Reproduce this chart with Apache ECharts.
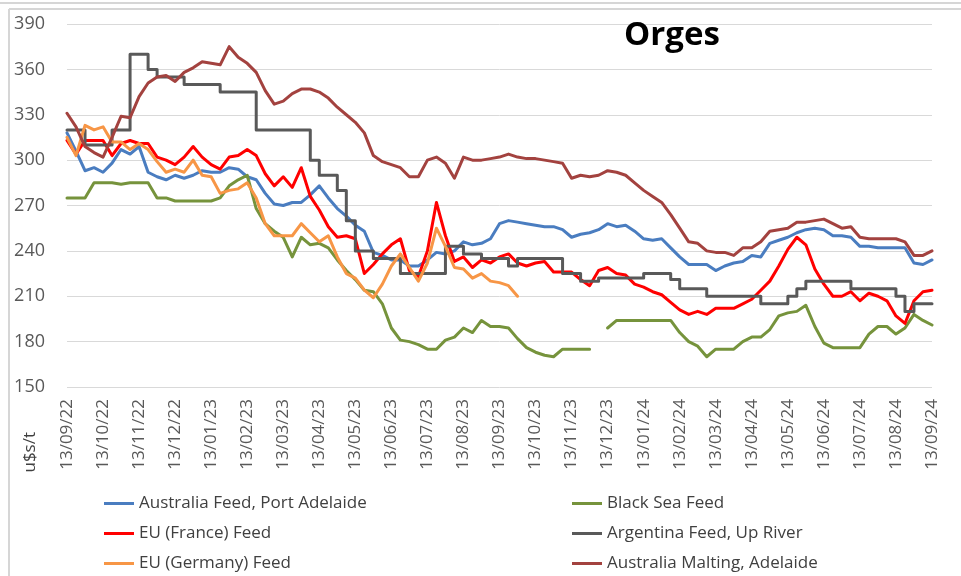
<!DOCTYPE html>
<html>
<head>
<meta charset="utf-8">
<script src="https://cdn.jsdelivr.net/npm/echarts@6/dist/echarts.min.js"></script>
<style>
  html, body { margin: 0; padding: 0; background: #fff; }
  #chart { width: 961px; height: 576px; }
</style>
</head>
<body>
<div id="chart"></div>
<script>
// month tick labels (every 4th weekly category)
var monthLabels = ['13/09/22', '13/10/22', '13/11/22', '13/12/22', '13/01/23', '13/02/23', '13/03/23',
  '13/04/23', '13/05/23', '13/06/23', '13/07/23', '13/08/23', '13/09/23', '13/10/23', '13/11/23',
  '13/12/23', '13/01/24', '13/02/24', '13/03/24', '13/04/24', '13/05/24', '13/06/24', '13/07/24',
  '13/08/24', '13/09/24']

var seriesNames = ['Australia Feed, Port Adelaide', 'Black Sea Feed', 'EU (France) Feed',
  'Argentina Feed, Up River', 'EU (Germany) Feed', 'Australia Malting, Adelaide']

// weekly values, u$s/t
var auFeed = [318, 306, 293, 295, 292, 298, 307, 304, 309, 292,
  289, 287, 290, 288, 290, 293, 292, 292, 295, 294,
  289, 287, 278, 271, 270, 272, 272, 277, 283, 275,
  268, 263, 257, 253, 239, 237, 234, 234, 230, 230,
  234, 239, 238, 240, 246, 244, 245, 248, 258, 260,
  259, 258, 257, 256, 256, 254, 249, 251, 252, 254,
  258, 256, 257, 253, 248, 247, 248, 242, 236, 231,
  231, 231, 227, 230, 232, 233, 237, 236, 245, 247,
  249, 252, 254, 255, 254, 250, 250, 249, 243, 243,
  242, 242, 242, 242, 232, 231, 234]

var blackSea = [275, 275, 275, 285, 285, 285, 284, 285, 285, 285,
  275, 275, 273, 273, 273, 273, 273, 275, 283, 287,
  290, 268, 258, 253, 249, 236, 249, 244, 245, 242,
  234, 227, 221, 214, 213, 205, 189, 181, 180, 178,
  175, 175, 181, 183, 189, 186, 194, 190, 190, 189,
  182, 176, 173, 171, 170, 175, 175, 175, 175, null,
  189, 194, 194, 194, 194, 194, 194, 194, 186, 180,
  177, 170, 175, 175, 175, 180, 183, 183, 188, 197,
  199, 200, 204, 190, 179, 176, 176, 176, 176, 185,
  190, 190, 185, 189, 198, 194, 191]

var euFrance = [313, 304, 313, 313, 313, 303, 311, 313, 311, 311,
  302, 300, 297, 302, 309, 302, 297, 294, 302, 303,
  307, 303, 291, 283, 289, 282, 295, 276, 267, 256,
  249, 250, 248, 225, 231, 238, 244, 248, 227, 223,
  240, 272, 250, 233, 236, 229, 234, 232, 236, 238,
  232, 230, 232, 233, 226, 226, 226, 221, 217, 227,
  229, 225, 224, 218, 216, 213, 211, 206, 201, 198,
  200, 198, 202, 202, 202, 205, 208, 214, 220, 230,
  241, 249, 244, 228, 218, 210, 210, 213, 207, 212,
  210, 207, 197, 192, 207, 213, 214]

var argentina = [320, 320, 310, 310, 310, 320, 320, 370, 370, 360,
  355, 355, 355, 350, 350, 350, 350, 345, 345, 345,
  345, 320, 320, 320, 320, 320, 320, 300, 290, 290,
  280, 260, 240, 240, 235, 235, 235, 225, 225, 225,
  225, 225, 243, 243, 238, 238, 235, 235, 235, 230,
  235, 235, 235, 235, 235, 225, 225, 220, 220, 222,
  222, 222, 222, 222, 225, 225, 225, 221, 215, 215,
  215, 210, 210, 210, 210, 210, 210, 205, 205, 205,
  210, 215, 220, 220, 220, 220, 220, 215, 215, 215,
  215, 215, 210, 200, 205, 205, 205]

var euGermany = [315, 303, 323, 320, 322, 312, 312, 307, 311, 307,
  299, 292, 294, 292, 300, 290, 289, 278, 280, 281,
  285, 275, 258, 250, 250, 250, 258, 252, 246, 250,
  236, 225, 222, 214, 209, 218, 230, 238, 229, 220,
  232, 255, 243, 229, 228, 222, 225, 220, 219, 217,
  210]

var auMalting = [331, 322, 309, 305, 302, 315, 329, 328, 342, 351,
  355, 356, 352, 358, 361, 365, 364, 363, 375, 368,
  364, 358, 346, 337, 339, 344, 347, 347, 345, 341,
  335, 330, 325, 318, 303, 299, 297, 295, 289, 289,
  300, 302, 298, 288, 302, 300, 300, 301, 302, 304,
  302, 301, 301, 300, 299, 298, 288, 290, 289, 290,
  293, 292, 290, 285, 280, 276, 272, 264, 255, 246,
  245, 240, 239, 239, 237, 242, 242, 246, 253, 254,
  255, 259, 259, 260, 261, 258, 255, 256, 249, 248,
  248, 248, 248, 246, 237, 237, 240]

// weekly categories: each month label followed by three in-between weeks
var categories = []
monthLabels.forEach(function(m, i) {
  categories.push(m)
  if (i < monthLabels.length - 1) {
    categories.push(m + ' +1w', m + ' +2w', m + ' +3w')
  }
})

var colors = ['#4A7DC0', '#76933C', '#FF0000', '#595959', '#F79646', '#A3423F']
var allData = [auFeed, blackSea, euFrance, argentina, euGermany, auMalting]

var chart = echarts.init(document.getElementById('chart'))

var series = seriesNames.map(function(name, i) {
  return {
    name: name,
    type: 'line',
    data: allData[i],
    symbol: 'none',
    step: i === 3 ? 'end' : false,
    connectNulls: false,
    lineStyle: { color: colors[i], width: 3, cap: 'round', join: 'round' },
    itemStyle: { color: colors[i] },
    animation: false
  }
})

function makeLegend(names, left) {
  return {
    data: names,
    orient: 'vertical',
    left: left,
    top: 494,
    height: 82,
    padding: 0,
    icon: 'rect',
    itemWidth: 30,
    itemHeight: 3,
    itemGap: 11,
    textStyle: { fontSize: 17, color: '#404040', fontFamily: 'Open Sans', lineHeight: 19 }
  }
}

chart.setOption({
  animation: false,
  title: {
    text: 'Orges',
    left: 619,
    top: 14,
    textStyle: { fontSize: 33, fontWeight: 'bold', color: '#000', fontFamily: 'Open Sans' }
  },
  grid: { left: 67, right: 29, top: 24, bottom: 189 },
  legend: [
    makeLegend([seriesNames[0], seriesNames[2], seriesNames[4]], 104),
    makeLegend([seriesNames[1], seriesNames[3], seriesNames[5]], 572)
  ],
  xAxis: {
    type: 'category',
    data: categories,
    boundaryGap: false,
    axisLine: { show: false },
    axisTick: { show: false },
    axisLabel: {
      interval: 3,
      rotate: 90,
      margin: 12,
      fontSize: 17,
      color: '#595959',
      fontFamily: 'Open Sans'
    },
    splitLine: { show: false }
  },
  yAxis: {
    type: 'value',
    min: 150,
    max: 390,
    interval: 30,
    axisLine: { show: false },
    axisTick: { show: false },
    axisLabel: { fontSize: 18, color: '#595959', margin: 22, fontFamily: 'Open Sans' },
    splitLine: { lineStyle: { color: '#D9D9D9', width: 1 } }
  },
  graphic: [
    { type: 'line', shape: { x1: 0, y1: 3, x2: 961, y2: 3 }, style: { stroke: '#D6D6D6', lineWidth: 2 } },
    { type: 'line', shape: { x1: 9, y1: 9, x2: 961, y2: 9 }, style: { stroke: '#D6D6D6', lineWidth: 2 } },
    { type: 'line', shape: { x1: 9, y1: 9, x2: 9, y2: 576 }, style: { stroke: '#D6D6D6', lineWidth: 2 } },
    {
      type: 'text',
      left: 22,
      top: 432,
      rotation: Math.PI / 2,
      style: { text: 'u$s/t', fontSize: 17, fill: '#404040', fontFamily: 'Open Sans' }
    }
  ],
  series: series
})
</script>
</body>
</html>
